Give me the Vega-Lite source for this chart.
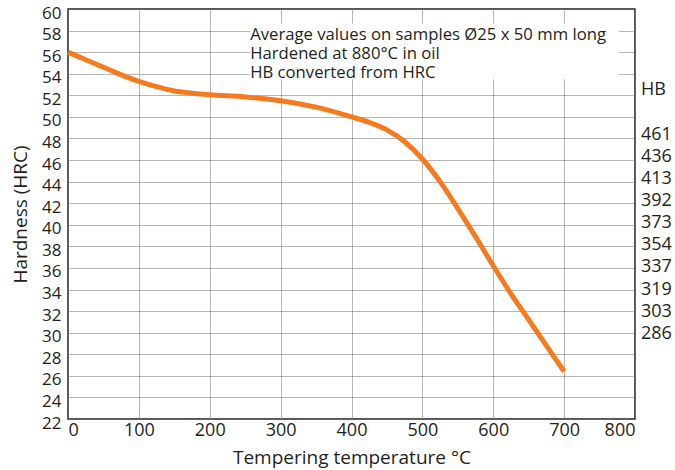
{
  "$schema": "https://vega.github.io/schema/vega-lite/v6.json",
  "width": 567,
  "height": 410,
  "autosize": {"type": "none"},
  "padding": {"left": 68, "top": 9, "right": 40, "bottom": 51},
  "background": "white",
  "config": {
    "font": "Open Sans",
    "view": {"stroke": "#231f20", "strokeWidth": 1.5},
    "axis": {
      "grid": true,
      "gridColor": "#6e6e6e",
      "gridDash": [1, 1],
      "gridWidth": 1,
      "gridOpacity": 1,
      "domain": false,
      "ticks": false,
      "labelOverlap": false,
      "labelFont": "Open Sans",
      "labelFontSize": 18,
      "labelColor": "#231f20",
      "titleFont": "Open Sans",
      "titleFontSize": 19,
      "titleFontWeight": "normal",
      "titleColor": "#231f20"
    }
  },
  "resolve": {"axis": {"x": "independent", "y": "independent"}},
  "datasets": {
    "curve": [
      {"temp": 0, "hrc": 56.0},
      {"temp": 25, "hrc": 55.3},
      {"temp": 50, "hrc": 54.6},
      {"temp": 75, "hrc": 53.9},
      {"temp": 100, "hrc": 53.3},
      {"temp": 125, "hrc": 52.8},
      {"temp": 150, "hrc": 52.4},
      {"temp": 175, "hrc": 52.2},
      {"temp": 200, "hrc": 52.05},
      {"temp": 250, "hrc": 51.85},
      {"temp": 300, "hrc": 51.5},
      {"temp": 350, "hrc": 50.9},
      {"temp": 400, "hrc": 50.0},
      {"temp": 425, "hrc": 49.5},
      {"temp": 450, "hrc": 48.8},
      {"temp": 475, "hrc": 47.7},
      {"temp": 500, "hrc": 46.1},
      {"temp": 525, "hrc": 44.0},
      {"temp": 550, "hrc": 41.5},
      {"temp": 575, "hrc": 38.9},
      {"temp": 600, "hrc": 36.2},
      {"temp": 625, "hrc": 33.6},
      {"temp": 650, "hrc": 31.2},
      {"temp": 675, "hrc": 28.8},
      {"temp": 700, "hrc": 26.4}
    ],
    "hb": [
      {"hrc": 52.5, "hb": "HB"},
      {"hrc": 48.35, "hb": "461"},
      {"hrc": 46.3, "hb": "436"},
      {"hrc": 44.25, "hb": "413"},
      {"hrc": 42.21, "hb": "392"},
      {"hrc": 40.16, "hb": "373"},
      {"hrc": 38.1, "hb": "354"},
      {"hrc": 36.05, "hb": "337"},
      {"hrc": 34.0, "hb": "319"},
      {"hrc": 31.96, "hb": "303"},
      {"hrc": 29.92, "hb": "286"}
    ]
  },
  "layer": [
    {
      "data": {"name": "curve"},
      "mark": {"type": "line", "color": "#F47B20", "strokeWidth": 5, "interpolate": "monotone", "strokeCap": "butt"},
      "encoding": {
        "x": {
          "field": "temp",
          "type": "quantitative",
          "scale": {"domain": [0, 800], "nice": false, "zero": false},
          "axis": {
            "grid": true,
            "values": [0, 100, 200, 300, 400, 500, 600, 700, 800],
            "title": "Tempering temperature °C",
            "labelPadding": 2,
            "titlePadding": 9
          }
        },
        "y": {
          "field": "hrc",
          "type": "quantitative",
          "scale": {"domain": [22, 60], "nice": false, "zero": false},
          "axis": {
            "grid": true,
            "values": [22, 24, 26, 28, 30, 32, 34, 36, 38, 40, 42, 44, 46, 48, 50, 52, 54, 56, 58, 60],
            "title": "Hardness (HRC)",
            "labelFontSize": 17,
            "labelPadding": 7,
            "labelOffset": 4,
            "titlePadding": 11
          }
        }
      }
    },
    {
      "data": {"values": [{}]},
      "mark": {"type": "rect", "fill": "white"},
      "encoding": {
        "x": {"datum": 257, "type": "quantitative", "axis": null},
        "x2": {"datum": 777},
        "y": {"datum": 53.5, "type": "quantitative", "axis": null},
        "y2": {"datum": 58.65}
      }
    },
    {
      "data": {"values": [{}]},
      "mark": {"type": "text", "align": "left", "baseline": "middle", "fontSize": 16.7, "color": "#231f20", "font": "Open Sans"},
      "encoding": {
        "x": {"datum": 257, "type": "quantitative", "axis": null},
        "y": {"datum": 57.6, "type": "quantitative", "axis": null},
        "text": {"value": "Average values on samples Ø25 x 50 mm long"}
      }
    },
    {
      "data": {"values": [{}]},
      "mark": {"type": "text", "align": "left", "baseline": "middle", "fontSize": 16.7, "color": "#231f20", "font": "Open Sans"},
      "encoding": {
        "x": {"datum": 257, "type": "quantitative", "axis": null},
        "y": {"datum": 55.85, "type": "quantitative", "axis": null},
        "text": {"value": "Hardened at 880°C in oil"}
      }
    },
    {
      "data": {"values": [{}]},
      "mark": {"type": "text", "align": "left", "baseline": "middle", "fontSize": 16.7, "color": "#231f20", "font": "Open Sans"},
      "encoding": {
        "x": {"datum": 257, "type": "quantitative", "axis": null},
        "y": {"datum": 54.1, "type": "quantitative", "axis": null},
        "text": {"value": "HB converted from HRC"}
      }
    },
    {
      "data": {"name": "hb"},
      "mark": {"type": "text", "align": "left", "baseline": "middle", "dx": 6, "fontSize": 18, "color": "#231f20", "font": "Open Sans"},
      "encoding": {
        "x": {"datum": 800, "type": "quantitative", "axis": null},
        "y": {"field": "hrc", "type": "quantitative", "axis": null},
        "text": {"field": "hb"}
      }
    }
  ]
}
